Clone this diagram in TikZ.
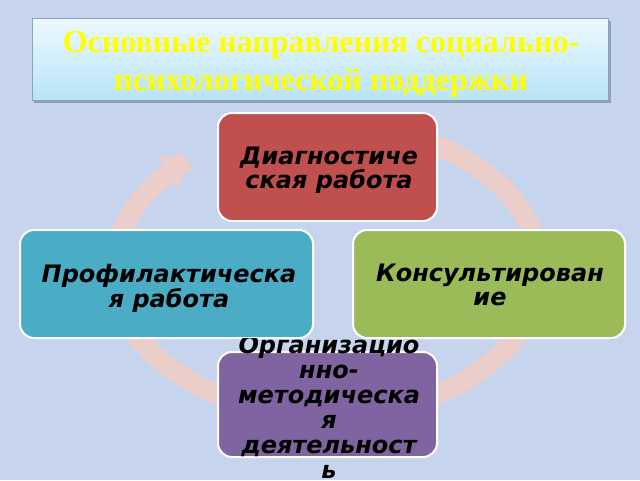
\documentclass[tikz,border=0pt]{standalone}
\usepackage{fontspec}
\setmainfont{Liberation Serif}
\newfontfamily\boxfont{DejaVu Sans}
\usetikzlibrary{arrows.meta}
\definecolor{bgc}{RGB}{198,213,237}
\definecolor{ringc}{RGB}{235,206,202}
\definecolor{redc}{RGB}{192,80,77}
\definecolor{bluec}{RGB}{75,172,198}
\definecolor{greenc}{RGB}{155,187,89}
\definecolor{purplec}{RGB}{128,100,162}
\definecolor{titletop}{RGB}{238,249,254}
\definecolor{titlebot}{RGB}{184,228,246}
\definecolor{titleborder}{RGB}{128,170,195}
\definecolor{titletext}{RGB}{255,255,0}
\begin{document}
\begin{tikzpicture}[x=1pt,y=-1pt,
  box/.style={draw=white, line width=2pt, rounded corners=14pt, inner sep=0pt},
  boxtext/.style={font=\boxfont\bfseries\itshape\fontsize{24}{24}\selectfont, align=center, text=black, inner sep=0pt}]
\fill[bgc] (0,0) rectangle (640,480);
\useasboundingbox (0,0) rectangle (640,480);
% title
\fill[black, opacity=0.25] (34,21) rectangle (611,103);
\node[draw=titleborder, line width=1pt, top color=titletop, bottom color=titlebot,
      minimum width=576pt, minimum height=82pt, inner sep=0pt] (titlebox) at (320,59) {};
\node[text=titletext, font=\bfseries\fontsize{32}{38}\selectfont, align=center, inner sep=0pt] (title) at (321,64)
  {Основные направления социально-\\психологической поддержки};
% ring
\draw[ringc, line width=20pt, -{Triangle[width=38pt,length=26pt]}]
  plot[domain=285:590, samples=240] ({327+213*cos(\x)},{270+145*sin(\x)});
% boxes
\node[box, fill=redc, minimum width=219pt, minimum height=108pt] (diag) at (327.5,167) {};
\node[boxtext] (diagt) at (329,170) {Диагностиче\\ская работа};
\node[box, fill=bluec, minimum width=293pt, minimum height=108pt] (prof) at (166.5,284) {};
\node[boxtext] (proft) at (169,288) {Профилактическа\\я работа};
\node[box, fill=greenc, minimum width=272pt, minimum height=108pt] (kons) at (489,284) {};
\node[boxtext] (konst) at (490,285) {Консультирован\\ие};
\node[box, fill=purplec, minimum width=219pt, minimum height=105pt] (org) at (327.5,404.5) {};
\begin{scope}
\clip (0,338) rectangle (640,480);
\node[boxtext, font=\boxfont\bfseries\itshape\fontsize{24}{25}\selectfont] (orgt) at (329,407)
  {Организацио\\нно-\\методическа\\я\\деятельност\\ь};
\end{scope}
\end{tikzpicture}
\end{document}
